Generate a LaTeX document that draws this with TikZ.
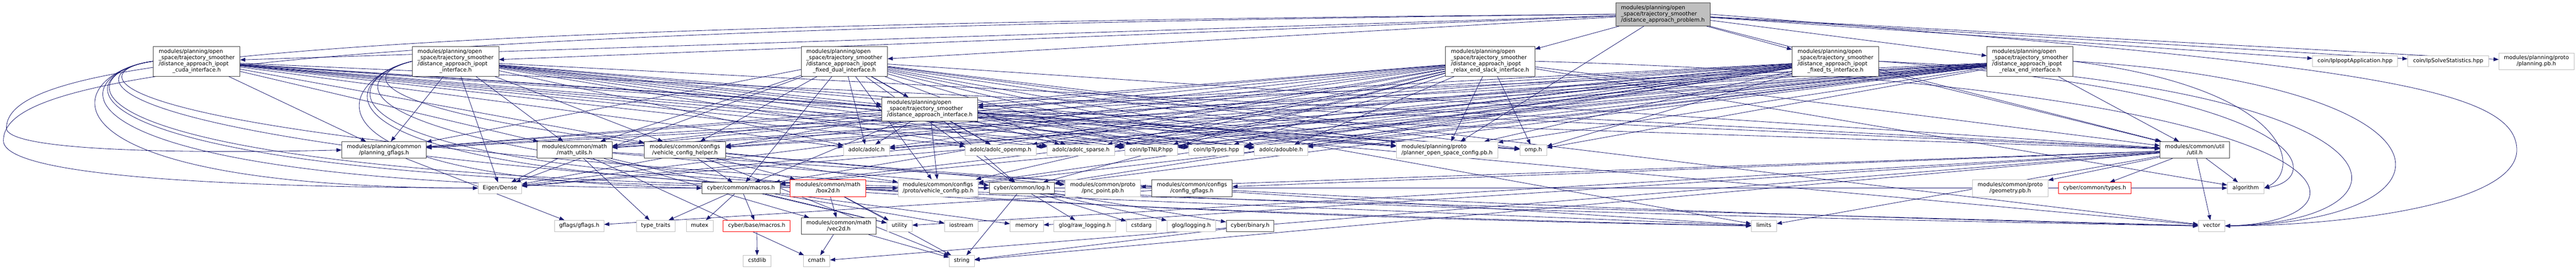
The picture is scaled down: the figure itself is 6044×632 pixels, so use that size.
\documentclass[tikz,border=0pt]{standalone}
\usepackage{fontspec}
\setmainfont{DejaVu Sans}
\usetikzlibrary{arrows.meta}
\pgfdeclarelayer{bg}
\pgfsetlayers{bg,main}
\definecolor{edgec}{HTML}{191970}
\definecolor{docb}{HTML}{404040}
\definecolor{extb}{HTML}{BFBFBF}
\definecolor{fillg}{HTML}{BFBFBF}
\newcommand\lastc[1]{\multicolumn{1}{@{}c@{}}{#1}}
\newcommand\ml[1]{\begin{tabular}{@{}l@{}}#1\end{tabular}}
\newcommand\oneln[1]{\begin{tabular}{@{}c@{}}#1\end{tabular}}
\tikzset{
  box/.style={draw=docb, fill=white, line width=1pt, inner xsep=8pt, inner ysep=0pt,
    font=\fontsize{12.8}{14.5}\selectfont, text=black},
  ext/.style={box, draw=extb},
  trunc/.style={box, draw=red},
  edge/.style={draw=edgec, line width=1pt, -{Triangle[length=12pt,width=9pt]}},
}
\begin{document}
\begin{tikzpicture}[x=1pt,y=1pt]
\useasboundingbox (0,0) rectangle (6044,-632);
\begin{pgfonlayer}{bg}
\fill[white] (0,0) rectangle (6044,-632);
\end{pgfonlayer}
% rank 0
\node[box, fill=fillg, minimum width=221pt, minimum height=55pt] (problem) at (3901.5,-33.5)
  {\ml{modules/planning/open\\\_space/trajectory\_smoother\\\lastc{/distance\_approach\_problem.h}}};
% rank 1
\node[box, minimum width=203pt, minimum height=70pt] (cuda) at (461.5,-144)
  {\ml{modules/planning/open\\\_space/trajectory\_smoother\\/distance\_approach\_ipopt\\\lastc{\_cuda\_interface.h}}};
\node[box, minimum width=202pt, minimum height=70pt] (ipopt) at (1069,-144)
  {\ml{modules/planning/open\\\_space/trajectory\_smoother\\/distance\_approach\_ipopt\\\lastc{\_interface.h}}};
\node[box, minimum width=202pt, minimum height=70pt] (fixdual) at (1981,-144)
  {\ml{modules/planning/open\\\_space/trajectory\_smoother\\/distance\_approach\_ipopt\\\lastc{\_fixed\_dual\_interface.h}}};
\node[box, minimum width=210pt, minimum height=70pt] (slack) at (3496,-144)
  {\ml{modules/planning/open\\\_space/trajectory\_smoother\\/distance\_approach\_ipopt\\\lastc{\_relax\_end\_slack\_interface.h}}};
\node[box, minimum width=203pt, minimum height=70pt] (fixts) at (4306.5,-144)
  {\ml{modules/planning/open\\\_space/trajectory\_smoother\\/distance\_approach\_ipopt\\\lastc{\_fixed\_ts\_interface.h}}};
\node[box, minimum width=202pt, minimum height=70pt] (relaxend) at (4763,-144)
  {\ml{modules/planning/open\\\_space/trajectory\_smoother\\/distance\_approach\_ipopt\\\lastc{\_relax\_end\_interface.h}}};
\node[ext, minimum width=199pt, minimum height=26pt] (ipoptapp) at (5525.5,-144) {\oneln{coin/IpIpoptApplication.hpp}};
\node[ext, minimum width=190pt, minimum height=26pt] (solvestat) at (5744,-144) {\oneln{coin/IpSolveStatistics.hpp}};
\node[ext, minimum width=176pt, minimum height=39pt] (planningpb) at (5951,-144.5) {\ml{modules/planning/proto\\\lastc{/planning.pb.h}}};
% rank 2
\node[box, minimum width=225pt, minimum height=55pt] (dai) at (2181.5,-256.5)
  {\ml{modules/planning/open\\\_space/trajectory\_smoother\\\lastc{/distance\_approach\_interface.h}}};
% rank 3
\node[box, minimum width=198pt, minimum height=39pt] (pgflags) at (901,-352.5) {\ml{modules/planning/common\\\lastc{/planning\_gflags.h}}};
\node[box, minimum width=176pt, minimum height=39pt] (mathutils) at (1348,-352.5) {\ml{modules/common/math\\\lastc{/math\_utils.h}}};
\node[box, minimum width=190pt, minimum height=39pt] (vch) at (1607,-352.5) {\ml{modules/common/configs\\\lastc{/vehicle\_config\_helper.h}}};
\node[ext, minimum width=108pt, minimum height=26pt] (adolc) at (2033,-353) {\oneln{adolc/adolc.h}};
\node[ext, minimum width=167pt, minimum height=26pt] (openmp) at (2347.5,-353) {\oneln{adolc/adolc\_openmp.h}};
\node[ext, minimum width=158pt, minimum height=26pt] (sparse) at (2536,-353) {\oneln{adolc/adolc\_sparse.h}};
\node[ext, minimum width=124pt, minimum height=26pt] (iptnlp) at (2701,-353) {\oneln{coin/IpTNLP.hpp}};
\node[ext, minimum width=129pt, minimum height=26pt] (iptypes) at (2853.5,-353) {\oneln{coin/IpTypes.hpp}};
\node[ext, minimum width=125pt, minimum height=26pt] (adouble) at (3005.5,-353) {\oneln{adolc/adouble.h}};
\node[ext, minimum width=238pt, minimum height=39pt] (posc) at (3395,-352.5) {\ml{modules/planning/proto\\\lastc{/planner\_open\_space\_config.pb.h}}};
\node[ext, minimum width=63pt, minimum height=26pt] (omp) at (3597.5,-353) {\oneln{omp.h}};
\node[box, minimum width=163pt, minimum height=39pt] (util) at (5149.5,-352.5) {\ml{modules/common/util\\\lastc{/util.h}}};
% rank 4
\node[ext, minimum width=102pt, minimum height=26pt] (eigen) at (1173,-442) {\oneln{Eigen/Dense}};
\node[box, minimum width=183pt, minimum height=26pt] (cmacros) at (1738.5,-442) {\oneln{cyber/common/macros.h}};
\node[trunc, minimum width=177pt, minimum height=40pt] (box2d) at (1942.5,-442) {\ml{modules/common/math\\\lastc{/box2d.h}}};
\node[ext, minimum width=188pt, minimum height=40pt] (vcpb) at (2201,-442) {\ml{modules/common/configs\\\lastc{/proto/vehicle\_config.pb.h}}};
\node[box, minimum width=153pt, minimum height=26pt] (log) at (2397.5,-442) {\oneln{cyber/common/log.h}};
\node[ext, minimum width=177pt, minimum height=40pt] (pnc) at (2587.5,-442) {\ml{modules/common/proto\\\lastc{/pnc\_point.pb.h}}};
\node[box, minimum width=189pt, minimum height=40pt] (cfgflags) at (2796.5,-442) {\ml{modules/common/configs\\\lastc{/config\_gflags.h}}};
\node[ext, minimum width=177pt, minimum height=40pt] (geom) at (4716.5,-442) {\ml{modules/common/proto\\\lastc{/geometry.pb.h}}};
\node[trunc, minimum width=171pt, minimum height=26pt] (types) at (4914.5,-442) {\oneln{cyber/common/types.h}};
\node[ext, minimum width=86pt, minimum height=26pt] (algorithm) at (5269,-442) {\oneln{algorithm}};
% rank 5
\node[ext, minimum width=116pt, minimum height=26pt] (gflagsh) at (1359,-531) {\oneln{gflags/gflags.h}};
\node[ext, minimum width=91pt, minimum height=26pt] (typetraits) at (1538.5,-531) {\oneln{type\_traits}};
\node[ext, minimum width=63pt, minimum height=26pt] (mutex) at (1641.5,-531) {\oneln{mutex}};
\node[trunc, minimum width=157pt, minimum height=26pt] (bmacros) at (1775.5,-531) {\oneln{cyber/base/macros.h}};
\node[box, minimum width=176pt, minimum height=39pt] (vec2d) at (1968,-531.5) {\ml{modules/common/math\\\lastc{/vec2d.h}}};
\node[ext, minimum width=59pt, minimum height=26pt] (utility) at (2110.5,-531) {\oneln{utility}};
\node[ext, minimum width=79pt, minimum height=26pt] (iostream) at (2255.5,-531) {\oneln{iostream}};
\node[ext, minimum width=78pt, minimum height=26pt] (memory) at (2409,-531) {\oneln{memory}};
\node[ext, minimum width=144pt, minimum height=26pt] (rawlog) at (2545,-531) {\oneln{glog/raw\_logging.h}};
\node[ext, minimum width=70pt, minimum height=26pt] (cstdarg) at (2678,-531) {\oneln{cstdarg}};
\node[ext, minimum width=114pt, minimum height=26pt] (glog) at (2795,-531) {\oneln{glog/logging.h}};
\node[box, minimum width=112pt, minimum height=26pt] (binary) at (2933,-531) {\oneln{cyber/binary.h}};
\node[ext, minimum width=59pt, minimum height=26pt] (limits) at (4138.5,-531) {\oneln{limits}};
\node[ext, minimum width=62pt, minimum height=26pt] (vector) at (5189,-531) {\oneln{vector}};
% rank 6
\node[ext, minimum width=65pt, minimum height=26pt] (cstdlib) at (1776.5,-613.5) {\oneln{cstdlib}};
\node[ext, minimum width=62pt, minimum height=26pt] (cmath) at (1916,-613.5) {\oneln{cmath}};
\node[ext, minimum width=59pt, minimum height=26pt] (string) at (2256.5,-613.5) {\oneln{string}};

\begin{pgfonlayer}{bg}
% problem
\foreach \t in {cuda,ipopt,fixdual,slack,fixts,relaxend,ipoptapp,solvestat,planningpb,util,posc}
  \draw[edge] (problem) -- (\t);
\draw[edge] (problem.west) .. controls (600,-60) and (20,-150) .. (15,-300)
   .. controls (10,-360) and (500,-360) .. (pgflags.west);
\draw[edge] (problem.west) .. controls (400,-70) and (10,-200) .. (8,-330)
   .. controls (5,-420) and (600,-440) .. (eigen.west);
\draw[edge] (problem.east) .. controls (5500,-150) and (5900,-200) .. (5905,-350)
   .. controls (5910,-480) and (5500,-530) .. (vector.east);
% interfaces: near targets, straight
\foreach \s in {cuda,ipopt,fixdual,slack,fixts,relaxend}
  \foreach \t in {omp,adolc,openmp,sparse,adouble,iptnlp,iptypes,vch,mathutils,util,pgflags,dai,posc}
    \draw[edge] (\s) -- (\t);
% cuda and ipopt: far targets looped round their left side
\foreach \t in {eigen,cmacros,log,vcpb,vector,limits}
  \draw[edge] (cuda.west) .. controls (150,-170) and (40,-440) .. (\t.west);
\foreach \t in {cmacros,log,vcpb,vector}
  \draw[edge] (ipopt.west) .. controls (800,-180) and (640,-420) .. (\t.west);
\draw[edge] (ipopt) -- (eigen);
\draw[edge] (ipopt.west) .. controls (780,-190) and (620,-470) .. (limits.west);
% the others: straight
\foreach \s in {fixdual,slack,fixts}
  \foreach \t in {eigen,log,cmacros,vcpb}
    \draw[edge] (\s) -- (\t);
\foreach \t in {eigen,log,cmacros,vcpb}
  \draw[edge] (relaxend) -- (\t);
\draw[edge] (fixdual) -- (vector);
\draw[edge] (fixdual) -- (limits);
% right-hand loops to vector and algorithm
\foreach \s/\xa in {slack/5600,fixts/5700,relaxend/5800}
  \draw[edge] (\s.east) .. controls (\xa,-200) and (\xa,-520) .. (vector.east);
\draw[edge] (slack) -- (algorithm);
\draw[edge] (fixts.east) .. controls (5450,-220) and (5450,-420) .. (algorithm.east);
\draw[edge] (relaxend.east) .. controls (5380,-210) and (5400,-400) .. (algorithm.east);
% distance_approach_interface
\foreach \t in {omp,adolc,openmp,sparse,adouble,iptnlp,iptypes,eigen,log,cmacros,vcpb,mathutils,util,pgflags,posc,vector}
  \draw[edge] (dai) -- (\t);
% lower levels
\draw[edge] (pgflags) -- (gflagsh);
\foreach \t in {eigen,cmath,typetraits,utility,limits,log,vec2d}
  \draw[edge] (mathutils) -- (\t);
\foreach \t in {cmacros,string,box2d,vcpb,pnc}
  \draw[edge] (vch) -- (\t);
\foreach \t in {typetraits,mutex,bmacros,utility,iostream,memory}
  \draw[edge] (cmacros) -- (\t);
\draw[edge] (bmacros) -- (cstdlib);
\foreach \t in {vec2d,string,limits,vector,algorithm,utility}
  \draw[edge] (box2d) -- (\t);
\foreach \t in {cmath,string}
  \draw[edge] (vec2d) -- (\t);
\foreach \t in {string,rawlog,cstdarg,glog,binary}
  \draw[edge] (log) -- (\t);
\draw[edge] (binary) -- (string);
\draw[edge] (cfgflags) -- (gflagsh);
\foreach \t in {algorithm,vector,string,memory,utility,limits,cmath,types,geom,cfgflags,pnc}
  \draw[edge] (util) -- (\t);
\end{pgfonlayer}
\end{tikzpicture}
\end{document}
